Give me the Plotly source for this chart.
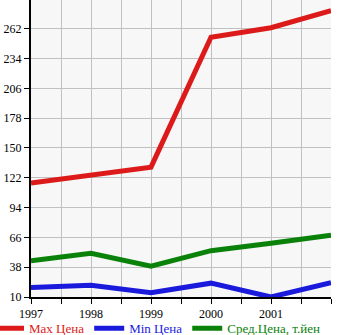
import plotly.graph_objects as go

years = [1997, 1998, 1999, 2000, 2001, 2002]
max_price = [117, 124, 132, 254, 263, 279]
min_price = [19, 21, 14, 23, 10, 23.5]
avg_price = [44, 51, 39, 53.5, 60.5, 68]

x_labels = [1997, 1998, 1999, 2000, 2001]
y_ticks = [10, 38, 66, 94, 122, 150, 178, 206, 234, 262]

series = [
    ("Max Цена", max_price, "#dd1a1a"),
    ("Min Цена", min_price, "#1a1add"),
    ("Сред.Цена, т.йен", avg_price, "#0a820a"),
]

fig = go.Figure()
for name, vals, col in series:
    fig.add_trace(go.Scatter(
        x=years, y=vals, mode="lines",
        name=f"<span style='color:{col}'>{name}</span>",
        line=dict(color=col, width=5),
        cliponaxis=False,
    ))

font = "Liberation Serif, Times New Roman, serif"

fig.update_layout(
    width=345, height=335,
    margin=dict(l=31, r=14, t=0, b=38, autoexpand=False),
    paper_bgcolor="white",
    plot_bgcolor="#f7f7f7",
    font=dict(family=font, size=12, color="black"),
    showlegend=True,
    legend=dict(
        orientation="h", x=-0.14, xanchor="left", y=-0.105, yanchor="middle",
        font=dict(family=font, size=13),
        itemwidth=30, bgcolor="rgba(0,0,0,0)",
    ),
    xaxis=dict(
        range=[1997, 2002],
        tickvals=x_labels, ticktext=[str(v) for v in x_labels],
        showgrid=True, gridcolor="#c0c0c0", gridwidth=1,
        ticks="outside", ticklen=5, tickcolor="black", tickwidth=1,
        minor=dict(dtick=0.5, tick0=1997, showgrid=True, gridcolor="#c0c0c0",
                   ticks="outside", ticklen=5, tickcolor="black"),
        showline=True, linecolor="black", linewidth=2,
        zeroline=False, fixedrange=True,
        tickfont=dict(family=font, size=12),
    ),
    yaxis=dict(
        range=[10, 289],
        tickvals=y_ticks, ticktext=[str(v) for v in y_ticks],
        showgrid=True, gridcolor="#c0c0c0", gridwidth=1,
        ticks="outside", ticklen=5, tickcolor="black", tickwidth=1,
        showline=True, linecolor="black", linewidth=2,
        zeroline=False, fixedrange=True,
        tickfont=dict(family=font, size=12),
    ),
)

fig.write_html("out.html")
